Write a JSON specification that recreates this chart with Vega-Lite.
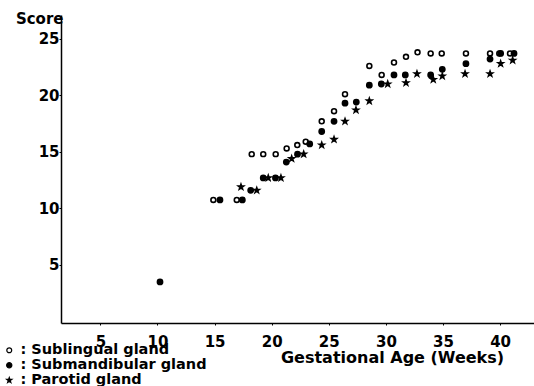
{
  "$schema": "https://vega.github.io/schema/vega-lite/v6.json",
  "width": 473,
  "height": 308,
  "autosize": {"type": "none"},
  "padding": {"left": 61, "top": 15, "right": 0, "bottom": 63},
  "background": "white",
  "config": {
    "view": {"stroke": null},
    "font": "DejaVu Sans",
    "axis": {"labelFont": "DejaVu Sans", "titleFont": "DejaVu Sans", "labelColor": "black", "titleColor": "black", "domainColor": "black", "tickColor": "black", "domainWidth": 1.5, "grid": false},
    "legend": {"labelFont": "DejaVu Sans"}
  },
  "data": {
    "values": [
      {"gland": "Sublingual gland", "week": 14.89, "score": 10.75},
      {"gland": "Sublingual gland", "week": 16.94, "score": 10.75},
      {"gland": "Sublingual gland", "week": 18.25, "score": 14.8},
      {"gland": "Sublingual gland", "week": 19.26, "score": 14.8},
      {"gland": "Sublingual gland", "week": 20.35, "score": 14.8},
      {"gland": "Sublingual gland", "week": 21.31, "score": 15.3},
      {"gland": "Sublingual gland", "week": 22.24, "score": 15.6},
      {"gland": "Sublingual gland", "week": 22.98, "score": 15.9},
      {"gland": "Sublingual gland", "week": 24.38, "score": 17.7},
      {"gland": "Sublingual gland", "week": 25.46, "score": 18.6},
      {"gland": "Sublingual gland", "week": 26.42, "score": 20.1},
      {"gland": "Sublingual gland", "week": 28.55, "score": 22.6},
      {"gland": "Sublingual gland", "week": 29.63, "score": 21.8},
      {"gland": "Sublingual gland", "week": 30.71, "score": 22.9},
      {"gland": "Sublingual gland", "week": 31.76, "score": 23.4},
      {"gland": "Sublingual gland", "week": 32.77, "score": 23.8},
      {"gland": "Sublingual gland", "week": 33.92, "score": 23.7},
      {"gland": "Sublingual gland", "week": 34.89, "score": 23.7},
      {"gland": "Sublingual gland", "week": 37.01, "score": 23.7},
      {"gland": "Sublingual gland", "week": 39.12, "score": 23.7},
      {"gland": "Sublingual gland", "week": 39.93, "score": 23.7},
      {"gland": "Sublingual gland", "week": 40.87, "score": 23.7},
      {"gland": "Submandibular gland", "week": 10.22, "score": 3.5},
      {"gland": "Submandibular gland", "week": 15.47, "score": 10.75},
      {"gland": "Submandibular gland", "week": 17.43, "score": 10.75},
      {"gland": "Submandibular gland", "week": 18.16, "score": 11.6},
      {"gland": "Submandibular gland", "week": 19.26, "score": 12.7},
      {"gland": "Submandibular gland", "week": 20.33, "score": 12.7},
      {"gland": "Submandibular gland", "week": 21.28, "score": 14.1},
      {"gland": "Submandibular gland", "week": 22.26, "score": 14.8},
      {"gland": "Submandibular gland", "week": 23.33, "score": 15.7},
      {"gland": "Submandibular gland", "week": 24.38, "score": 16.8},
      {"gland": "Submandibular gland", "week": 25.46, "score": 17.7},
      {"gland": "Submandibular gland", "week": 26.42, "score": 19.3},
      {"gland": "Submandibular gland", "week": 27.41, "score": 19.4},
      {"gland": "Submandibular gland", "week": 28.55, "score": 20.9},
      {"gland": "Submandibular gland", "week": 29.6, "score": 21.0},
      {"gland": "Submandibular gland", "week": 30.71, "score": 21.8},
      {"gland": "Submandibular gland", "week": 31.7, "score": 21.8},
      {"gland": "Submandibular gland", "week": 33.92, "score": 21.8},
      {"gland": "Submandibular gland", "week": 34.94, "score": 22.3},
      {"gland": "Submandibular gland", "week": 37.01, "score": 22.8},
      {"gland": "Submandibular gland", "week": 39.12, "score": 23.2},
      {"gland": "Submandibular gland", "week": 40.05, "score": 23.7},
      {"gland": "Submandibular gland", "week": 41.22, "score": 23.7},
      {"gland": "Parotid gland", "week": 17.31, "score": 11.9},
      {"gland": "Parotid gland", "week": 18.69, "score": 11.6},
      {"gland": "Parotid gland", "week": 19.7, "score": 12.7},
      {"gland": "Parotid gland", "week": 20.81, "score": 12.7},
      {"gland": "Parotid gland", "week": 21.75, "score": 14.4},
      {"gland": "Parotid gland", "week": 22.8, "score": 14.8},
      {"gland": "Parotid gland", "week": 24.38, "score": 15.6},
      {"gland": "Parotid gland", "week": 25.46, "score": 16.1},
      {"gland": "Parotid gland", "week": 26.42, "score": 17.7},
      {"gland": "Parotid gland", "week": 27.38, "score": 18.7},
      {"gland": "Parotid gland", "week": 28.55, "score": 19.5},
      {"gland": "Parotid gland", "week": 30.16, "score": 21.0},
      {"gland": "Parotid gland", "week": 31.76, "score": 21.1},
      {"gland": "Parotid gland", "week": 32.72, "score": 21.9},
      {"gland": "Parotid gland", "week": 34.15, "score": 21.4},
      {"gland": "Parotid gland", "week": 34.94, "score": 21.7},
      {"gland": "Parotid gland", "week": 36.93, "score": 21.9},
      {"gland": "Parotid gland", "week": 39.12, "score": 21.9},
      {"gland": "Parotid gland", "week": 40.05, "score": 22.8},
      {"gland": "Parotid gland", "week": 41.1, "score": 23.1}
    ]
  },
  "mark": {"type": "point", "filled": true, "stroke": "black", "strokeWidth": 1.6, "opacity": 1},
  "encoding": {
    "x": {
      "field": "week", "type": "quantitative",
      "scale": {"domain": [1.55, 42.97], "nice": false, "zero": false},
      "axis": {
        "orient": "bottom",
        "title": "Gestational Age (Weeks)",
        "values": [5, 10, 15, 20, 25, 30, 35, 40],
        "tickSize": 2, "labelPadding": 9,
        "labelFontSize": 15, "labelFontWeight": "bold",
        "titleFontSize": 16, "titleFontWeight": "bold",
        "titleX": 331, "titleY": 34, "titleAlign": "center", "titleBaseline": "middle"
      }
    },
    "y": {
      "field": "score", "type": "quantitative",
      "scale": {"domain": [-0.13, 27.1], "nice": false, "zero": false},
      "axis": {
        "orient": "left",
        "title": "Score",
        "values": [5, 10, 15, 20, 25],
        "tickSize": 2, "labelPadding": 0,
        "labelFontSize": 15, "labelFontWeight": "bold",
        "titleFontSize": 15, "titleFontWeight": "bold",
        "titleAngle": 0, "titleX": 2, "titleY": 3, "titleAlign": "right", "titleBaseline": "middle"
      }
    },
    "shape": {
      "field": "gland", "type": "nominal",
      "scale": {"domain": ["Sublingual gland", "Submandibular gland", "Parotid gland"], "range": ["circle", "circle", "M0,-1L0.235,-0.324L0.951,-0.309L0.380,0.124L0.588,0.809L0,0.4L-0.588,0.809L-0.380,0.124L-0.951,-0.309L-0.235,-0.324Z"]},
      "legend": {
        "title": null, "orient": "none", "legendX": -59, "legendY": 328,
        "labelExpr": "': ' + datum.label",
        "labelFontSize": 14.5, "labelFontWeight": "bold", "labelColor": "black", "labelLimit": 0,
        "labelOffset": 4, "rowPadding": 0, "padding": 0, "symbolStrokeColor": "black", "symbolStrokeWidth": 1.2
      }
    },
    "fill": {
      "field": "gland", "type": "nominal",
      "scale": {"domain": ["Sublingual gland", "Submandibular gland", "Parotid gland"], "range": ["white", "black", "black"]}
    },
    "size": {
      "field": "gland", "type": "nominal",
      "scale": {"domain": ["Sublingual gland", "Submandibular gland", "Parotid gland"], "range": [24, 30, 52]}
    }
  }
}
